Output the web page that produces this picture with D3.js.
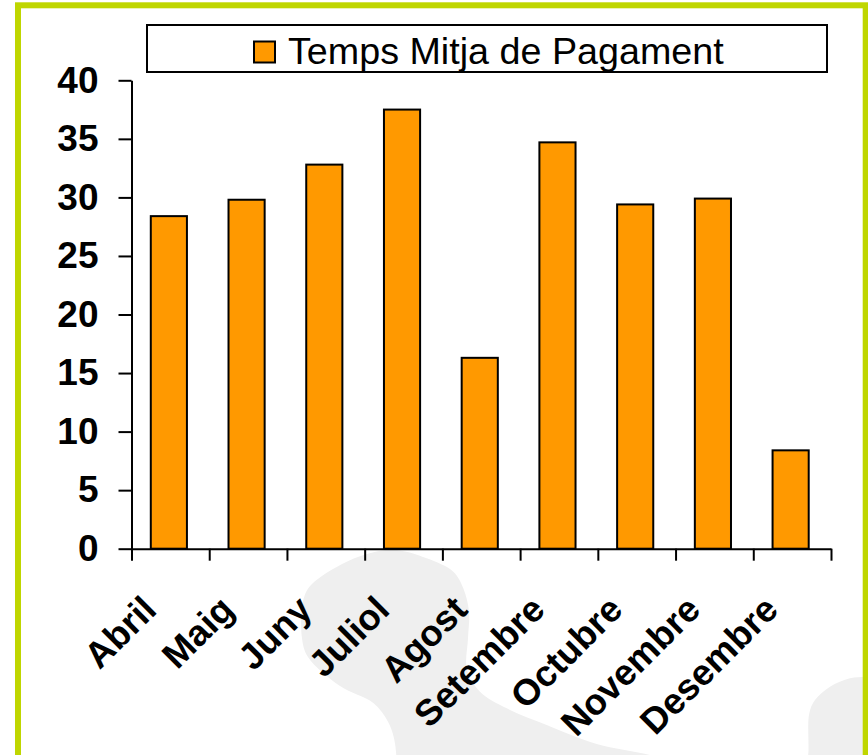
<!DOCTYPE html>
<html>
<head>
<meta charset="utf-8">
<script src="https://cdn.jsdelivr.net/npm/d3@7"></script>
<style>
  html, body { margin: 0; padding: 0; background: #fff; }
  svg { display: block; font-family: "Liberation Sans", Arial, sans-serif; }
</style>
</head>
<body>
<div id="root"></div>
<script>
// data
const months = ["Abril", "Maig", "Juny", "Juliol", "Agost", "Setembre", "Octubre", "Novembre", "Desembre"];
const values = [28.4, 29.8, 32.8, 37.5, 16.3, 34.7, 29.4, 29.9, 8.4];
const yTicks = [0, 5, 10, 15, 20, 25, 30, 35, 40];
const seriesName = "Temps Mitja de Pagament";

const width = 868;
const height = 755;
const barColor = "#ff9900";

const svg = d3
  .select("#root")
  .append("svg")
  .attr("width", width)
  .attr("height", height)
  .attr("viewBox", `0 0 ${width} ${height}`);

svg.append("rect").attr("width", width).attr("height", height).attr("fill", "#fff");

// grey watermark shapes in the background
const blob = d3.line().curve(d3.curveCatmullRomClosed.alpha(0.5));
const bigBlob = [
  [396.7, 550], [426.7, 558.3], [453.3, 571.7], [463.3, 588.3], [469, 611.7],
  [468, 638.3], [467, 670], [480, 691.7], [506.7, 708.3], [546.7, 725],
  [596.7, 744], [650, 755], [700, 768], [720, 800], [398, 800], [397, 765],
  [394, 738.3], [388, 721.7], [373.3, 703], [340, 686], [308, 657], [302, 638.3],
  [303.3, 600], [311, 585], [346.7, 561.7], [376.7, 551.5],
];
const smallBlob = [
  [808, 800], [808.5, 750], [809.3, 713.3], [815, 700], [830, 686.7],
  [850, 678.3], [866, 676.7], [885, 676], [885, 800],
];
svg.append("g")
  .selectAll("path")
  .data([bigBlob, smallBlob])
  .join("path")
  .attr("d", blob)
  .attr("fill", "#efefef");

// green frame
svg.append("rect")
  .attr("x", 18)
  .attr("y", 5.3)
  .attr("width", 847.7)
  .attr("height", 770)
  .attr("fill", "none")
  .attr("stroke", "#bfd600")
  .attr("stroke-width", 6);

// scales
const plot = { left: 131.5, right: 831, top: 80.3, bottom: 548.7 };

const x = d3.scaleBand()
  .domain(months)
  .range([plot.left, plot.right])
  .paddingInner(0.535)
  .paddingOuter(0.2675);

const xEdge = d3.scaleLinear()
  .domain([0, months.length])
  .range([plot.left, plot.right]);

const y = d3.scaleLinear()
  .domain([0, 40])
  .range([plot.bottom, plot.top]);

// bars
svg.append("g")
  .selectAll("rect")
  .data(values)
  .join("rect")
  .attr("x", (d, i) => x(months[i]) - 1.5)
  .attr("y", (d) => y(d))
  .attr("width", x.bandwidth())
  .attr("height", (d) => y(0) - y(d))
  .attr("fill", barColor)
  .attr("stroke", "#000")
  .attr("stroke-width", 2);

// y axis
const yAxis = svg.append("g")
  .attr("transform", `translate(${plot.left},0)`)
  .call(d3.axisLeft(y).tickValues(yTicks).tickSize(13).tickSizeOuter(0).tickPadding(20));
yAxis.selectAll("path, line").attr("stroke", "#000").attr("stroke-width", 2);
yAxis.selectAll("text")
  .attr("font-size", 37)
  .attr("font-weight", "bold")
  .attr("font-family", "Liberation Sans, Arial, sans-serif")
  .attr("fill", "#000");

// x axis, ticks between categories
const xAxis = svg.append("g")
  .attr("transform", `translate(0,${plot.bottom})`)
  .call(d3.axisBottom(xEdge).ticks(months.length).tickFormat("").tickSize(12).tickSizeOuter(0));
xAxis.selectAll("path, line").attr("stroke", "#000").attr("stroke-width", 2);

// rotated month labels
svg.append("g")
  .selectAll("text")
  .data(months)
  .join("text")
  .attr("transform", (d) => `translate(${x(d) + x.bandwidth() / 2 - 12},${plot.bottom + 63}) rotate(-45)`)
  .attr("text-anchor", "end")
  .attr("font-size", 36.5)
  .attr("font-weight", "bold")
  .attr("fill", "#000")
  .text((d) => d);

// legend
const legend = svg.append("g");
legend.append("rect")
  .attr("x", 147)
  .attr("y", 25)
  .attr("width", 680)
  .attr("height", 47)
  .attr("fill", "#fff")
  .attr("stroke", "#000")
  .attr("stroke-width", 2);
legend.append("rect")
  .attr("x", 254)
  .attr("y", 41.5)
  .attr("width", 21)
  .attr("height", 21)
  .attr("fill", barColor)
  .attr("stroke", "#000")
  .attr("stroke-width", 2);
legend.append("text")
  .attr("x", 288)
  .attr("y", 64.3)
  .attr("font-size", 37.7)
  .attr("fill", "#000")
  .text(seriesName);
</script>
</body>
</html>
